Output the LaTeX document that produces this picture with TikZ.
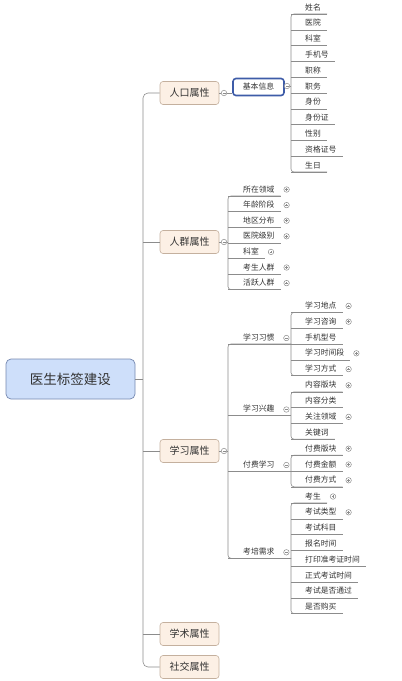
\documentclass[tikz,border=0pt]{standalone}
\usepackage{fontspec}
\setmainfont{Noto Sans CJK SC}
\usetikzlibrary{calc}
\definecolor{linegray}{RGB}{140,140,140}
\definecolor{peach}{RGB}{252,240,229}
\definecolor{peachline}{RGB}{196,176,158}
\definecolor{rootfill}{RGB}{206,223,250}
\definecolor{rootline}{RGB}{118,136,176}
\definecolor{selblue}{RGB}{62,92,168}
\definecolor{txt}{RGB}{50,50,50}
\tikzset{
  conn/.style={draw=linegray, line width=0.6pt},
  rootbox/.style={draw=rootline, fill=rootfill, rounded corners=5pt, line width=0.7pt,
    minimum width=129pt, minimum height=40pt, inner sep=0pt, text=txt,
    font=\fontsize{13.5}{15}\selectfont},
  lonebox/.style={draw=peachline, fill=peach, rounded corners=3pt, line width=0.6pt,
    minimum width=59pt, minimum height=23pt, inner sep=0pt, text=txt,
    font=\fontsize{10}{11}\selectfont},
  selbox/.style={draw=selblue, fill=white, rounded corners=3pt, line width=1.6pt,
    minimum width=51pt, minimum height=17pt, inner sep=0pt, text=txt,
    font=\fontsize{7.8}{9}\selectfont},
  leaf/.style={anchor=south west, inner xsep=0pt, inner ysep=3pt, text=txt,
    font=\fontsize{7.8}{9}\selectfont},
  mcirc/.style={circle, draw=linegray, fill=white, line width=0.5pt, minimum size=5.5pt, inner sep=0pt,
    path picture={\draw[linegray, line width=0.5pt] ([xshift=-1.5pt]path picture bounding box.center) -- ([xshift=1.5pt]path picture bounding box.center);}},
  pcirc/.style={circle, draw=linegray, fill=white, line width=0.5pt, minimum size=5.5pt, inner sep=0pt,
    path picture={\draw[linegray, line width=0.5pt] ([xshift=-1.3pt]path picture bounding box.center) -- ([xshift=1.3pt]path picture bounding box.center)
      ([yshift=-1.3pt]path picture bounding box.center) -- ([yshift=1.3pt]path picture bounding box.center);}},
}
\begin{document}
\begin{tikzpicture}[x=1pt,y=-1pt]
\useasboundingbox (0,0) rectangle (402,681);

% root and level 1
\node[rootbox] (root) at (70.5,379) {医生标签建设};
\coordinate (trunk) at (143,379);
\node[lonebox] (p1) at (189.5,93) {人口属性};
\node[lonebox] (p2) at (189.5,242) {人群属性};
\node[lonebox] (p3) at (189.5,451) {学习属性};
\node[lonebox] (p4) at (189.5,634) {学术属性};
\node[lonebox] (p5) at (189.5,667) {社交属性};
\draw[conn] (root.east) -- (trunk);
\draw[conn, rounded corners=5pt] (p1.west) -- (trunk |- p1.west) -- (trunk |- p5.west) -- (p5.west);
\draw[conn] (trunk |- p2.west) -- (p2.west);
\draw[conn] (trunk |- p3.west) -- (p3.west);
\draw[conn] (trunk |- p4.west) -- (p4.west);

% 人口属性 -> 基本信息
\node[mcirc] (c1) at (224,93) {};
\node[selbox] (kb) at (258.5,87) {基本信息};
\draw[conn] (p1.east) -- (c1.west);
\draw[conn] (c1.east) -- (c1.east -| kb.west);
\node[mcirc] (kc) at (287,86) {};
\foreach \t [count=\i] in {姓名,医院,科室,手机号,职称,职务,身份,身份证,性别,资格证号,生日} {
  \node[leaf] (ja\i) at (291,{14+15.8*(\i-1)}) {\kern14pt\t\kern6pt};
  \draw[conn] (ja\i.south west) -- (ja\i.south east);
}
\draw[conn, rounded corners=3pt] (ja1.south east) -- (ja1.south west) -- (ja11.south west) -- (ja11.south east);
\draw[conn] (kc.east) -- (kc.east -| ja1.south west);

% 人群属性
\node[mcirc] (c2) at (224,242) {};
\draw[conn] (p2.east) -- (c2.west);
\foreach \t [count=\i] in {所在领域,年龄阶段,地区分布,医院级别,科室,考生人群,活跃人群} {
  \node[leaf] (jb\i) at (228,{196+15.6*(\i-1)}) {\kern15pt\t\kern6pt};
  \draw[conn] (jb\i.south west) -- (jb\i.south east);
  \node[pcirc] (jbp\i) at ([xshift=6pt,yshift=6.5pt]jb\i.south east) {};
}
\draw[conn, rounded corners=3pt] (jb1.south east) -- (jb1.south west) -- (jb7.south west) -- (jb7.south east);
\draw[conn] (c2.east) -- (c2.east -| jb1.south west);

% 学习属性
\node[mcirc] (c3) at (224,451) {};
\draw[conn] (p3.east) -- (c3.west);
\node[leaf] (q1) at (228,344) {\makebox[63pt][l]{\kern15pt 学习习惯}};
\node[leaf] (q2) at (228,415.5) {\makebox[63pt][l]{\kern15pt 学习兴趣}};
\node[leaf] (q3) at (228,471) {\makebox[63pt][l]{\kern15pt 付费学习}};
\node[leaf] (q4) at (228,558.3) {\makebox[63pt][l]{\kern15pt 考培需求}};
\foreach \i in {1,2,3,4} {
  \draw[conn] (q\i.south west) -- (q\i.south east);
  \node[mcirc] (qc\i) at ([xshift=-5pt,yshift=6pt]q\i.south east) {};
}
\draw[conn, rounded corners=3pt] (q1.south east) -- (q1.south west) -- (q4.south west) -- (q4.south east);
\draw[conn] (c3.east) -- (c3.east -| q1.south west);

% 学习习惯 children
\foreach \t [count=\i] in {学习地点,学习咨询,手机型号,学习时间段,学习方式} {
  \node[leaf] (ra\i) at (291,{312.4+15.8*(\i-1)}) {\kern14pt\t\kern6pt};
  \draw[conn] (ra\i.south west) -- (ra\i.south east);
}
\draw[conn, rounded corners=3pt] (ra1.south east) -- (ra1.south west) -- (ra5.south west) -- (ra5.south east);
\foreach \i in {1,2,4,5} { \node[pcirc] (rap\i) at ([xshift=6pt,yshift=6.5pt]ra\i.south east) {}; }

% 学习兴趣 children
\foreach \t [count=\i] in {内容版块,内容分类,关注领域,关键词} {
  \node[leaf] (rb\i) at (291,{391.8+15.8*(\i-1)}) {\kern14pt\t\kern6pt};
  \draw[conn] (rb\i.south west) -- (rb\i.south east);
}
\draw[conn, rounded corners=3pt] (rb1.south east) -- (rb1.south west) -- (rb4.south west) -- (rb4.south east);
\foreach \i in {1,3} { \node[pcirc] (rbp\i) at ([xshift=6pt,yshift=6.5pt]rb\i.south east) {}; }

% 付费学习 children
\foreach \t [count=\i] in {付费版块,付费金额,付费方式} {
  \node[leaf] (rc\i) at (291,{455.2+15.8*(\i-1)}) {\kern14pt\t\kern6pt};
  \draw[conn] (rc\i.south west) -- (rc\i.south east);
  \node[pcirc] (rcp\i) at ([xshift=6pt,yshift=6.5pt]rc\i.south east) {};
}
\draw[conn, rounded corners=3pt] (rc1.south east) -- (rc1.south west) -- (rc3.south west) -- (rc3.south east);

% 考培需求 children
\foreach \t [count=\i] in {考生,考试类型,考试科目,报名时间,打印准考证时间,正式考试时间,考试是否通过,是否购买} {
  \node[leaf] (rd\i) at (291,{503+15.8*(\i-1)}) {\kern14pt\t\kern6pt};
  \draw[conn] (rd\i.south west) -- (rd\i.south east);
}
\draw[conn, rounded corners=3pt] (rd1.south east) -- (rd1.south west) -- (rd8.south west) -- (rd8.south east);
\foreach \i in {1,2} { \node[pcirc] (rdp\i) at ([xshift=6pt,yshift=6.5pt]rd\i.south east) {}; }
\end{tikzpicture}
\end{document}
